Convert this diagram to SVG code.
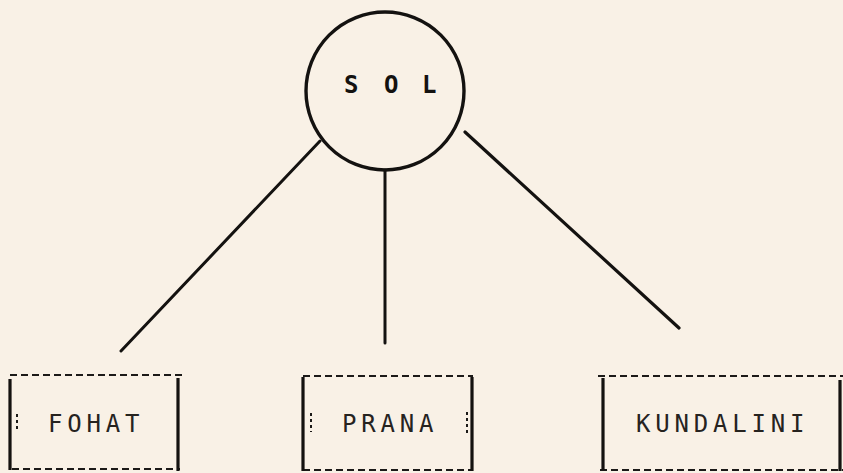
<svg xmlns="http://www.w3.org/2000/svg" width="843" height="473" viewBox="0 0 843 473">
  <style>
    .ink { stroke: #141210; fill: none; stroke-linecap: round; }
    .side { stroke: #141210; stroke-width: 3.2; fill: none; }
    .dash { stroke: #1c1a18; stroke-width: 2; fill: none; stroke-dasharray: 7 4; }
    .dots { stroke: #1c1a18; stroke-width: 2; fill: none; stroke-dasharray: 3 3; }
    .lbl { font-family: "DejaVu Sans Mono", "Liberation Mono", monospace; font-size: 24px; fill: #26231f; letter-spacing: 4.8px; }
    .sol { font-family: "DejaVu Sans Mono", "Liberation Mono", monospace; font-size: 24px; font-weight: bold; fill: #141210; }
  </style>
  <rect x="0" y="0" width="843" height="473" fill="#f9f1e6"/>

  <g id="connectors">
    <line class="ink" stroke-width="3" x1="320" y1="141" x2="121" y2="351"/>
    <line class="ink" stroke-width="3" x1="385" y1="170" x2="385" y2="343"/>
    <line class="ink" stroke-width="3.2" x1="465" y1="132" x2="679" y2="328"/>
  </g>

  <g id="sol">
    <circle class="ink" stroke-width="3.4" cx="385" cy="91" r="79"/>
    <text class="sol" y="93"><tspan x="344">S</tspan><tspan x="384">O</tspan><tspan x="422">L</tspan></text>
  </g>

  <g id="fohat">
    <line class="dash" x1="10" y1="375" x2="182" y2="375"/>
    <line class="dash" x1="12" y1="469" x2="180" y2="469"/>
    <line class="side" x1="10" y1="379" x2="10" y2="470"/>
    <line class="side" x1="178" y1="378" x2="178" y2="471"/>
    <line class="dots" x1="17" y1="414" x2="17" y2="432"/>
    <text class="lbl" x="48" y="432">FOHAT</text>
  </g>

  <g id="prana">
    <line class="dash" x1="303" y1="376" x2="473" y2="376"/>
    <line class="dash" x1="303" y1="470" x2="473" y2="470"/>
    <line class="side" x1="303" y1="377" x2="303" y2="471"/>
    <line class="side" x1="472" y1="377" x2="472" y2="471"/>
    <line class="dots" x1="311" y1="413" x2="311" y2="432"/>
    <line class="dots" x1="467" y1="412" x2="467" y2="434"/>
    <text class="lbl" x="342" y="432">PRANA</text>
  </g>

  <g id="kundalini">
    <line class="dash" x1="598" y1="376" x2="843" y2="376"/>
    <line class="dash" x1="600" y1="470" x2="843" y2="470"/>
    <line class="side" x1="603" y1="378" x2="603" y2="470"/>
    <line class="side" x1="840" y1="380" x2="840" y2="471"/>
    <text class="lbl" x="636" y="432">KUNDALINI</text>
  </g>
</svg>
